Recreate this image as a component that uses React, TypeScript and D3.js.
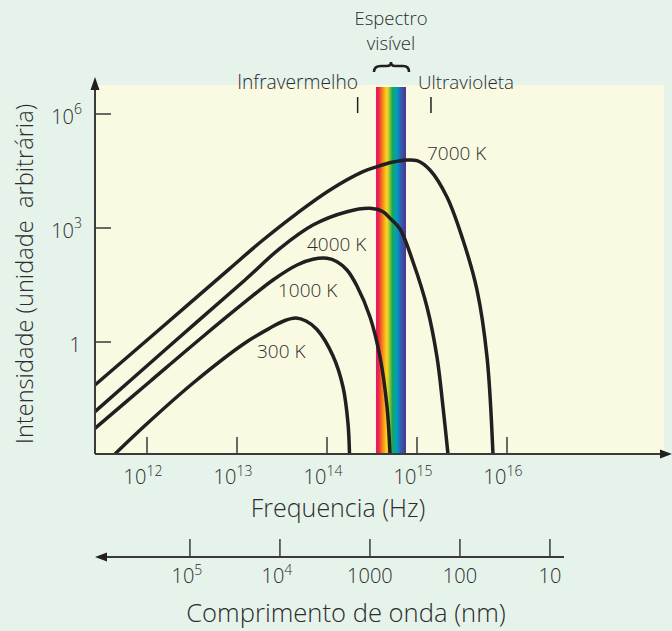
import React from "react";
import * as d3 from "d3";

// Data: [log10(frequency Hz), log10(intensity)]
const curve7000: [number, number][] = [
  [11.422, -1.132], [12.144, 0.342], [12.922, 1.939], [13.289, 2.684], [13.667, 3.387],
  [14.033, 4.0], [14.4, 4.482], [14.556, 4.613], [14.722, 4.729], [14.889, 4.789],
  [15.0, 4.771], [15.144, 4.526], [15.333, 3.816], [15.511, 2.684], [15.667, 1.368],
  [15.778, -0.395], [15.844, -2.947],
];
const curve4000: [number, number][] = [
  [11.422, -1.834], [12.256, -0.092], [13.089, 1.632], [13.478, 2.466], [13.844, 3.079],
  [14.222, 3.429], [14.478, 3.518], [14.622, 3.429], [14.7, 3.255], [14.811, 2.974],
  [14.956, 2.105], [15.111, 0.921], [15.222, -0.395], [15.289, -1.711], [15.344, -2.947],
];
const curve1000: [number, number][] = [
  [11.422, -2.271], [12.033, -1.039], [12.589, 0.079], [13.089, 1.053], [13.4, 1.632],
  [13.667, 2.026], [13.844, 2.176], [14.0, 2.203], [14.111, 2.113], [14.222, 1.895],
  [14.333, 1.474], [14.478, 0.658], [14.589, -0.395], [14.667, -1.711], [14.7, -2.947],
];
const curve300: [number, number][] = [
  [11.644, -2.947], [11.978, -2.197], [12.533, -1.039], [13.089, -0.026], [13.367, 0.368],
  [13.533, 0.566], [13.656, 0.632], [13.767, 0.553], [13.889, 0.329], [14.067, -0.368],
  [14.178, -1.184], [14.233, -2.132], [14.25, -2.947],
];
const curves = [curve7000, curve4000, curve1000, curve300];

const curveLabels = ["7000 K", "4000 K", "1000 K", "300 K"];
const curveLabelPos: [number, number][] = [[427, 160], [307, 251], [278, 297], [257, 358]];

const freqTickExps = [12, 13, 14, 15, 16];
const intensityTickExps = [6, 3, 0];
const wavelengthTicks = [1e5, 1e4, 1000, 100, 10];
const wavelengthLabels = [["10", "5"], ["10", "4"], ["1000", ""], ["100", ""], ["10", ""]];

const visibleBand = [3.5e14, 7.55e14]; // Hz
const infraredMark = 2.19e14;
const ultravioletMark = 1.43e15;

const spectrumColors = [
  "#e4137f", "#ea2a3a", "#f36c21", "#f9a51b", "#fbd91f", "#8cc63f", "#1fa54f",
  "#00a79d", "#0b8fcb", "#2a63ae", "#3c4aa0", "#553290",
];

const FONT = "'Open Sans', 'Noto Sans', sans-serif";
const TXT = "#2c2c2c";
const FW = 300;

export default function App() {
  const W = 672, H = 631;
  const x = d3.scaleLog().domain([1e12, 1e16]).range([147, 507]);
  const y = d3.scaleLog().domain([1, 1e6]).range([342, 114]);
  const c = 3e17; // nm/s
  const wl = d3.scaleLog().domain([1e5, 10]).range([x(c / 1e5), x(c / 10)]);

  const axisY = 454;
  const axisX = 95;
  const plotTop = 85;
  const plotRight = 664;
  const wlY = 557;

  const line = d3
    .line<[number, number]>()
    .x((d) => x(Math.pow(10, d[0])))
    .y((d) => y(Math.pow(10, d[1])))
    .curve(d3.curveCatmullRom.alpha(0.5));

  const bx0 = x(visibleBand[0]);
  const bx1 = x(visibleBand[1]);
  const bmid = (bx0 + bx1) / 2;

  return (
    <svg width={W} height={H} style={{ position: "absolute", left: 0, top: 0 }} fontFamily={FONT} fontWeight={FW}>
      <defs>
        <linearGradient id="spec" x1="0" x2="1" y1="0" y2="0">
          {spectrumColors.map((col, i) => (
            <stop key={i} offset={i / (spectrumColors.length - 1)} stopColor={col} />
          ))}
        </linearGradient>
        <clipPath id="plotclip">
          <rect x={axisX} y={plotTop} width={plotRight - axisX} height={axisY - plotTop} />
        </clipPath>
      </defs>
      <rect width={W} height={H} fill="#e5f3ea" />
      <rect x={axisX} y={plotTop} width={plotRight - axisX} height={axisY - plotTop} fill="#fafae3" />

      {/* visible band */}
      <rect x={bx0} y={87} width={bx1 - bx0} height={axisY - 87} fill="url(#spec)" />

      {/* x ticks */}
      {freqTickExps.map((e) => (
        <line key={e} x1={x(Math.pow(10, e))} x2={x(Math.pow(10, e))} y1={axisY} y2={axisY - 17} stroke="#3a3a3a" strokeWidth={1.5} />
      ))}
      {/* y ticks */}
      {intensityTickExps.map((e) => (
        <line key={e} x1={axisX} x2={axisX + 16} y1={y(Math.pow(10, e))} y2={y(Math.pow(10, e))} stroke="#3a3a3a" strokeWidth={1.5} />
      ))}

      {/* curves */}
      <g clipPath="url(#plotclip)">
        {curves.map((cv, i) => (
          <path key={i} d={line(cv) || ""} fill="none" stroke="#231f20" strokeWidth={3.5} strokeLinejoin="round" />
        ))}
      </g>

      {/* axes */}
      <line x1={axisX} x2={axisX} y1={axisY} y2={86} stroke="#3a3a3a" strokeWidth={2} />
      <path d={`M${axisX},77 L${axisX - 4.5},90 L${axisX + 4.5},90 Z`} fill="#231f20" />
      <line x1={axisX} x2={663} y1={axisY} y2={axisY} stroke="#3a3a3a" strokeWidth={2} />
      <path d={`M672,${axisY} L660,${axisY - 4.5} L660,${axisY + 4.5} Z`} fill="#231f20" />

      {/* y tick labels */}
      {intensityTickExps.map((e) =>
        e === 0 ? (
          <text key={e} x={81} y={y(1) + 10} textAnchor="end" fontSize={20} fill={TXT}>1</text>
        ) : (
          <text key={e} x={82} y={y(Math.pow(10, e)) + 9.5} textAnchor="end" fontSize={20} fill={TXT}>
            10<tspan dy={-10} fontSize={14}>{e}</tspan>
          </text>
        )
      )}

      {/* x tick labels */}
      {freqTickExps.map((e) => (
        <text key={e} x={x(Math.pow(10, e)) - 4} y={484} textAnchor="middle" fontSize={20} fill={TXT}>
          10<tspan dy={-8} fontSize={14}>{e}</tspan>
        </text>
      ))}

      {/* axis titles */}
      <text x={338} y={517} textAnchor="middle" fontSize={25} fill={TXT}>Frequencia (Hz)</text>
      <text transform={`translate(33,274) rotate(-90)`} textAnchor="middle" fontSize={23.6} fill={TXT} style={{ whiteSpace: "pre" }}>
        {"Intensidade (unidade  arbitrária)"}
      </text>

      {/* wavelength axis */}
      <line x1={100} x2={564} y1={wlY} y2={wlY} stroke="#3a3a3a" strokeWidth={2} />
      <path d={`M95,${wlY} L107,${wlY - 4.5} L107,${wlY + 4.5} Z`} fill="#231f20" />
      {wavelengthTicks.map((v) => (
        <line key={v} x1={wl(v)} x2={wl(v)} y1={wlY} y2={wlY - 18} stroke="#3a3a3a" strokeWidth={1.5} />
      ))}
      {wavelengthTicks.map((v, i) => (
        <text key={v} x={wl(v) - (wavelengthLabels[i][1] ? 3 : 0)} y={583} textAnchor="middle" fontSize={20} fill={TXT}>
          {wavelengthLabels[i][0]}
          {wavelengthLabels[i][1] ? <tspan dy={-8} fontSize={14}>{wavelengthLabels[i][1]}</tspan> : null}
        </text>
      ))}
      <text x={346} y={622} textAnchor="middle" fontSize={25.6} fill={TXT}>Comprimento de onda (nm)</text>

      {/* curve labels */}
      {curveLabels.map((t, i) => (
        <text key={t} x={curveLabelPos[i][0]} y={curveLabelPos[i][1]} fontSize={19} fill={TXT}>{t}</text>
      ))}

      {/* region labels */}
      <text x={bmid} y={25} textAnchor="middle" fontSize={18.5} fill={TXT}>Espectro</text>
      <text x={bmid} y={50} textAnchor="middle" fontSize={18.5} fill={TXT}>visível</text>
      <path
        d={`M${bx0 - 2},72 Q${bx0 - 2},66 ${bx0 + 5},66 L${bmid - 4},66 Q${bmid},66 ${bmid},62 Q${bmid},66 ${bmid + 4},66 L${bx1 - 3},66 Q${bx1 + 3},66 ${bx1 + 3},72`}
        fill="none" stroke="#231f20" strokeWidth={2.5}
      />
      <text x={358} y={89} textAnchor="end" fontSize={19.2} fill={TXT}>Infravermelho</text>
      <text x={418} y={89} fontSize={18.8} fill={TXT}>Ultravioleta</text>
      <line x1={x(infraredMark)} x2={x(infraredMark)} y1={97} y2={113} stroke="#231f20" strokeWidth={1.5} />
      <line x1={x(ultravioletMark)} x2={x(ultravioletMark)} y1={97} y2={113} stroke="#231f20" strokeWidth={1.5} />
    </svg>
  );
}
